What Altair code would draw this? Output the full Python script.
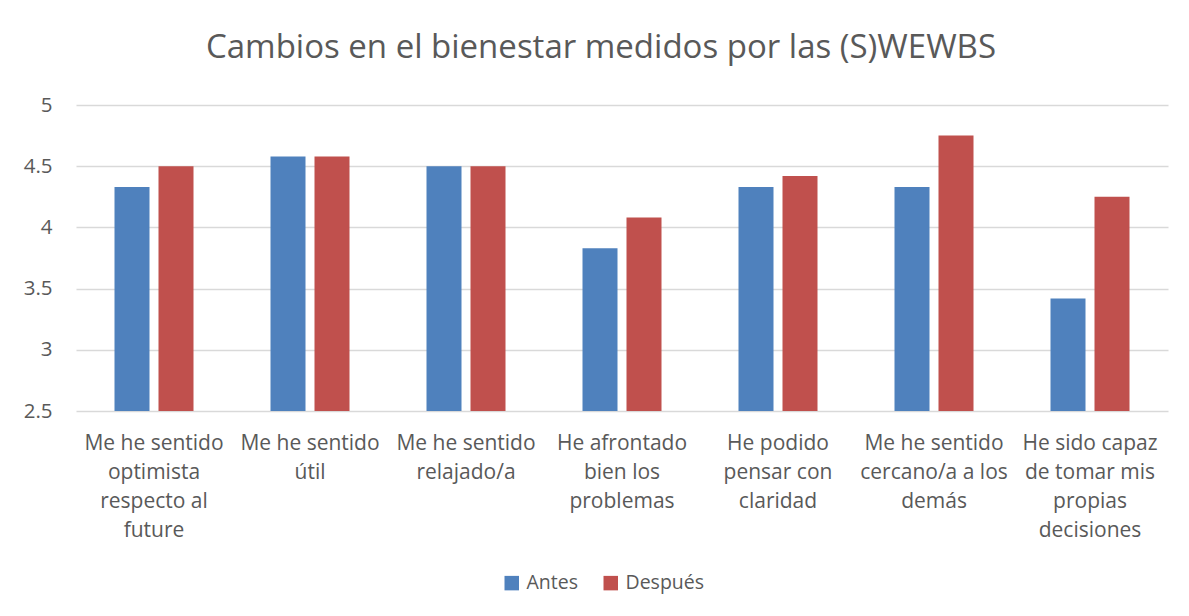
import altair as alt
import pandas as pd

categories = [
    "Me he sentido|optimista|respecto al|future",
    "Me he sentido|útil",
    "Me he sentido|relajado/a",
    "He afrontado|bien los|problemas",
    "He podido|pensar con|claridad",
    "Me he sentido|cercano/a a los|demás",
    "He sido capaz|de tomar mis|propias|decisiones",
]
series = ["Antes", "Después"]
antes = [4.33, 4.58, 4.50, 3.83, 4.33, 4.33, 3.42]
despues = [4.50, 4.58, 4.50, 4.08, 4.42, 4.75, 4.25]
colors = ["#4F81BD", "#C0504D"]
y_ticks = [2.5, 3, 3.5, 4, 4.5, 5]

rows = []
for c, a, d in zip(categories, antes, despues):
    rows.append({"cat": c, "serie": "Antes", "valor": a})
    rows.append({"cat": c, "serie": "Después", "valor": d})
df = pd.DataFrame(rows)

FONT = "Open Sans"
TXT = "#595959"

chart = alt.Chart(df).mark_bar().encode(
    x=alt.X("cat:N", sort=categories, title=None,
            scale=alt.Scale(paddingInner=0, paddingOuter=0),
            axis=alt.Axis(labelExpr="split(datum.label, '|')", labelAngle=0,
                          labelLineHeight=29, labelFontSize=21, labelFont=FONT,
                          labelColor=TXT, ticks=False, domain=False,
                          labelPadding=21, labelLimit=300, labelBaseline="top")),
    xOffset=alt.XOffset("serie:N", sort=series,
                        scale=alt.Scale(paddingInner=0.2045, paddingOuter=0.875)),
    y=alt.Y("valor:Q", title=None,
            scale=alt.Scale(domain=[2.5, 5], zero=False, nice=False),
            axis=alt.Axis(values=y_ticks, format="~g", labelFontSize=20.5,
                          labelFont=FONT, labelColor=TXT, ticks=False,
                          domain=False, gridColor="#D9D9D9", gridWidth=1.3,
                          labelPadding=24, labelAlign="right")),
    y2=alt.datum(2.5),
    color=alt.Color("serie:N", sort=series,
                    scale=alt.Scale(domain=series, range=colors),
                    legend=alt.Legend(title=None, orient="none", direction="horizontal",
                                      legendX=426, legendY=468, symbolType="square",
                                      symbolSize=210, symbolStrokeWidth=0,
                                      labelFontSize=19.5, labelFont=FONT, labelColor=TXT,
                                      labelOffset=5, columnPadding=23)),
).properties(
    width=1092,
    height=306,
    title=alt.TitleParams("Cambios en el bienestar medidos por las (S)WEWBS",
                          fontSize=33, font=FONT, color=TXT, fontWeight="normal",
                          anchor="middle", dx=-21, offset=30),
    autosize=alt.AutoSizeParams(type="none"),
    padding={"left": 68, "top": 97, "right": 12, "bottom": 195},
    background="white",
).configure_view(stroke=None)

chart.save("out.html", embed_options={"renderer": "svg", "actions": False})
